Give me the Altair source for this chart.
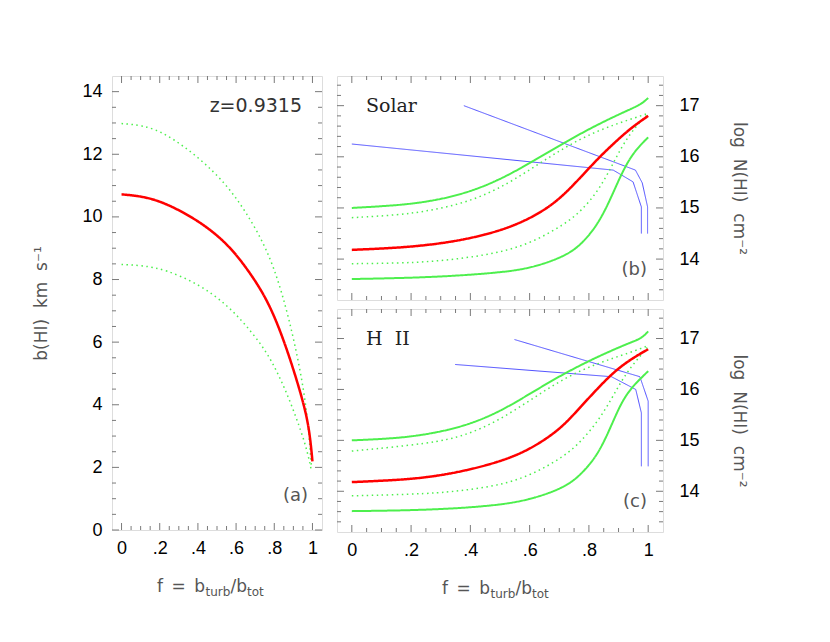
import altair as alt
import pandas as pd

# ---------------- data ----------------
# Panel (a): b(HI) versus f
A_RED_F = [0, 0.11, 0.23, 0.41, 0.55, 0.65, 0.76, 0.84, 0.91, 0.97, 0.99, 1.0]
A_RED_V = [10.72, 10.66, 10.45, 9.86, 9.17, 8.42, 7.41, 6.24, 4.96, 3.69, 2.85, 2.19]
A_DU_F = [0, 0.11, 0.23, 0.41, 0.55, 0.65, 0.76, 0.84, 0.91, 0.97, 0.995]
A_DU_V = [12.98, 12.93, 12.68, 11.88, 11.03, 10.18, 9.01, 7.63, 5.92, 4.0, 1.98]
A_DL_F = [0, 0.11, 0.23, 0.41, 0.55, 0.65, 0.76, 0.84, 0.91, 0.97, 0.995]
A_DL_V = [8.48, 8.45, 8.32, 7.84, 7.20, 6.56, 5.71, 4.75, 3.69, 2.62, 1.88]

# Panel (b): Solar
B_RED_F = [0, 0.156, 0.268, 0.381, 0.493, 0.583, 0.662, 0.718, 0.774, 0.831, 0.887, 0.943, 1.0]
B_RED_V = [14.18, 14.22, 14.28, 14.38, 14.54, 14.74, 15.0, 15.27, 15.61, 15.97, 16.28, 16.57, 16.80]
B_GU_F = [0, 0.156, 0.268, 0.381, 0.493, 0.605, 0.718, 0.831, 0.943, 0.977, 1.0]
B_GU_V = [15.0, 15.05, 15.13, 15.28, 15.53, 15.89, 16.28, 16.64, 16.94, 17.03, 17.15]
B_DU_F = [0, 0.156, 0.268, 0.381, 0.493, 0.605, 0.718, 0.831, 0.943, 1.0]
B_DU_V = [14.81, 14.86, 14.95, 15.10, 15.36, 15.76, 16.19, 16.52, 16.74, 16.85]
B_DL_F = [0, 0.156, 0.268, 0.381, 0.493, 0.605, 0.718, 0.774, 0.831, 0.875, 0.909, 0.943, 0.977, 1.0]
B_DL_V = [13.91, 13.92, 13.95, 14.02, 14.12, 14.31, 14.68, 14.94, 15.33, 15.79, 16.18, 16.48, 16.71, 16.84]
B_GL_F = [0, 0.268, 0.493, 0.605, 0.718, 0.774, 0.831, 0.875, 0.909, 0.943, 0.977, 1.0]
B_GL_V = [13.61, 13.64, 13.73, 13.82, 14.05, 14.28, 14.68, 15.2, 15.66, 16.02, 16.25, 16.38]
B_B1_F = [0, 0.882, 0.949, 0.977, 0.977]
B_B1_V = [16.25, 15.74, 15.51, 15.02, 14.50]
B_B2_F = [0.378, 0.957, 0.980, 0.998, 0.998]
B_B2_V = [17.0, 15.74, 15.49, 15.02, 14.50]

# Panel (c): H II
C_RED_F = [0, 0.156, 0.268, 0.381, 0.493, 0.583, 0.662, 0.718, 0.774, 0.831, 0.887, 0.943, 1.0]
C_RED_V = [14.18, 14.22, 14.28, 14.40, 14.57, 14.77, 15.05, 15.31, 15.67, 16.03, 16.36, 16.6, 16.79]
C_GU_F = [0, 0.156, 0.268, 0.381, 0.493, 0.605, 0.718, 0.831, 0.943, 0.977, 1.0]
C_GU_V = [15.0, 15.04, 15.13, 15.28, 15.54, 15.93, 16.32, 16.65, 16.93, 17.0, 17.14]
C_DU_F = [0, 0.268, 0.381, 0.493, 0.605, 0.718, 0.831, 0.943, 1.0]
C_DU_V = [14.79, 14.94, 15.09, 15.38, 15.80, 16.23, 16.52, 16.73, 16.86]
C_DL_F = [0, 0.268, 0.381, 0.493, 0.605, 0.718, 0.774, 0.831, 0.875, 0.909, 0.943, 0.977, 1.0]
C_DL_V = [13.91, 13.95, 14.02, 14.11, 14.31, 14.69, 14.98, 15.38, 15.80, 16.16, 16.45, 16.68, 16.85]
C_GL_F = [0, 0.268, 0.493, 0.605, 0.718, 0.774, 0.831, 0.875, 0.909, 0.943, 0.977, 1.0]
C_GL_V = [13.61, 13.63, 13.72, 13.84, 14.07, 14.33, 14.72, 15.28, 15.74, 16.03, 16.23, 16.36]
C_B1_F = [0.349, 0.876, 0.958, 0.977, 0.977]
C_B1_V = [16.49, 16.25, 16.0, 15.54, 14.49]
C_B2_F = [0.549, 0.972, 1.0, 1.0]
C_B2_V = [16.98, 16.25, 15.77, 14.49]

# axis ticks
X_MAJOR = [0, 0.2, 0.4, 0.6, 0.8, 1.0]
X_MINOR = [0.05, 0.1, 0.15, 0.25, 0.3, 0.35, 0.45, 0.5, 0.55, 0.65, 0.7, 0.75, 0.85, 0.9, 0.95]
A_Y_MAJOR = [0, 2, 4, 6, 8, 10, 12, 14]
A_Y_MINOR = [0.5, 1, 1.5, 2.5, 3, 3.5, 4.5, 5, 5.5, 6.5, 7, 7.5, 8.5, 9, 9.5,
             10.5, 11, 11.5, 12.5, 13, 13.5]
N_Y_MAJOR = [14, 15, 16, 17]
N_Y_MINOR = [13.4, 13.6, 13.8, 14.2, 14.4, 14.6, 14.8, 15.2, 15.4, 15.6, 15.8,
             16.2, 16.4, 16.6, 16.8, 17.2, 17.4]

XDOM = [-0.05, 1.05]
A_YDOM = [0, 14.5]
N_YDOM = [13.2, 17.58]

STYLES = ["red", "green", "greendot", "blue"]
COLORS = ["#ff0000", "#4def4d", "#4def4d", "#5050ff"]
DASHES = [[1, 0], [1, 0], [1.5, 3.5], [1, 0]]
WIDTHS = [2.5, 1.0, 1.3, 1.0]

FRAME = "#7a7a7a"
LABEL_FONT = "Liberation Sans"
TITLE_FONT = "DejaVu Sans"
TITLE_COLOR = "#555555"
NB = "\u00a0"


def make_df(series):
    rows = []
    for name, style, fs, vs in series:
        for i, (f, v) in enumerate(zip(fs, vs)):
            rows.append({"series": name, "style": style, "i": i, "f": f, "v": v})
    return pd.DataFrame(rows)


def style_enc():
    return dict(
        color=alt.Color("style:N", scale=alt.Scale(domain=STYLES, range=COLORS), legend=None),
        strokeDash=alt.StrokeDash("style:N", scale=alt.Scale(domain=STYLES, range=DASHES), legend=None),
        strokeWidth=alt.StrokeWidth("style:N", scale=alt.Scale(domain=STYLES, range=WIDTHS), legend=None),
        detail="series:N",
        order=alt.Order("i:Q"),
    )


def tick_layers(W, H, xscale, yscale, xaxis, yaxis, ymaj, ymin):
    layers = []
    for vals, ln in ((X_MAJOR, 7), (X_MINOR, 4)):
        base = alt.Chart(pd.DataFrame({"t": vals})).mark_rule(color=FRAME, strokeWidth=1)
        xe = alt.X("t:Q", scale=xscale, axis=xaxis)
        layers.append(base.encode(x=xe, y=alt.value(H), y2=alt.value(H - ln)))
        layers.append(base.encode(x=xe, y=alt.value(0), y2=alt.value(ln)))
    for vals, ln in ((ymaj, 7), (ymin, 4)):
        base = alt.Chart(pd.DataFrame({"t": vals})).mark_rule(color=FRAME, strokeWidth=1)
        ye = alt.Y("t:Q", scale=yscale, axis=yaxis)
        layers.append(base.encode(y=ye, x=alt.value(0), x2=alt.value(ln)))
        layers.append(base.encode(y=ye, x=alt.value(W), x2=alt.value(W - ln)))
    return layers


def x_axis():
    return alt.Axis(values=X_MAJOR, ticks=False, tickSize=0, domain=False, grid=False,
                    labelExpr="datum.value == 0 ? '0' : datum.value == 1 ? '1' : '.' + format(datum.value * 10, 'd')",
                    labelPadding=9, labelFontSize=18, labelFont=LABEL_FONT, labelColor="black",
                    labelFlush=False, labelOverlap=False, title=None)


def x_title(anchor, y):
    one = pd.DataFrame({"a": [0]})
    parts = [
        ("f\u2002=\u2002b", anchor, y, 17, "right"),
        ("turb", anchor + 0.5, y + 5, 12, "left"),
        ("/b", anchor + 25.5, y, 17, "left"),
        ("tot", anchor + 42, y + 5, 12, "left"),
    ]
    out = []
    for txt, x, yy, size, align in parts:
        out.append(alt.Chart(one).mark_text(text=txt, align=align, baseline="middle", fontSize=size,
                                            font=TITLE_FONT, color=TITLE_COLOR)
                   .encode(x=alt.value(x), y=alt.value(yy)))
    return out


def label(txt, x, y, size, font, color, align="left"):
    return alt.Chart(pd.DataFrame({"a": [0]})).mark_text(
        text=txt, align=align, baseline="middle", fontSize=size, font=font, color=color
    ).encode(x=alt.value(x), y=alt.value(y))


xs = alt.Scale(domain=XDOM, nice=False, zero=False)

# ---------------- panel (a) ----------------
WA, HA = 210, 454
ysa = alt.Scale(domain=A_YDOM, nice=False, zero=False)
AX_A = x_axis()
AY_A = alt.Axis(
    values=A_Y_MAJOR, ticks=False, tickSize=0, domain=False, grid=False,
    labelPadding=10, labelFontSize=18, labelFont=LABEL_FONT, labelColor="black",
    labelFlush=False, labelOverlap=False,
    title=f"b(HI){NB}{NB}km{NB}{NB}s⁻¹", titleFont=TITLE_FONT, titleFontSize=17,
    titleFontWeight="normal", titleColor=TITLE_COLOR, titlePadding=31)
df_a = make_df([
    ("du", "greendot", A_DU_F, A_DU_V),
    ("dl", "greendot", A_DL_F, A_DL_V),
    ("red", "red", A_RED_F, A_RED_V),
])
a_lines = alt.Chart(df_a).mark_line(interpolate="basis").encode(
    x=alt.X("f:Q", scale=xs, axis=AX_A),
    y=alt.Y("v:Q", scale=ysa, axis=AY_A),
    **style_enc(),
)
panel_a = alt.layer(
    a_lines,
    *tick_layers(WA, HA, xs, ysa, AX_A, AY_A, A_Y_MAJOR, A_Y_MINOR),
    label("z=0.9315", 190, 30, 19, TITLE_FONT, "#333333", "right"),
    label("(a)", 196, 420, 18, TITLE_FONT, TITLE_COLOR, "right"),
    *x_title(93, HA + 57),
).properties(width=WA, height=HA)


# ---------------- panels (b), (c) ----------------
WB = 326


def n_panel(H, series, blue, tag, name, show_x):
    ys = alt.Scale(domain=N_YDOM, nice=False, zero=False)
    xaxis = x_axis() if show_x else None
    yaxis = alt.Axis(values=N_Y_MAJOR, orient="right", ticks=False, tickSize=0, domain=False,
                     grid=False, labelPadding=16, labelFontSize=18, labelFont=LABEL_FONT,
                     labelColor="black", labelFlush=False, labelOverlap=False,
                     title=f"log{NB}{NB}N(HI){NB}{NB}cm⁻²", titleFont=TITLE_FONT, titleFontSize=17,
                     titleFontWeight="normal", titleColor=TITLE_COLOR, titlePadding=30)
    df = make_df(series)
    dfb = make_df(blue)
    curves = alt.Chart(df).mark_line(interpolate="basis").encode(
        x=alt.X("f:Q", scale=xs, axis=xaxis),
        y=alt.Y("v:Q", scale=ys, axis=yaxis),
        **style_enc(),
    )
    blues = alt.Chart(dfb).mark_line().encode(
        x=alt.X("f:Q", scale=xs, axis=xaxis),
        y=alt.Y("v:Q", scale=ys, axis=yaxis),
        **style_enc(),
    )
    layers = [blues, curves] + tick_layers(WB, H, xs, ys, xaxis, yaxis, N_Y_MAJOR, N_Y_MINOR) + [
        label(name, 29, 30, 19, "DejaVu Serif", "#222222", "left"),
        label(tag, 310, H - 30, 18, TITLE_FONT, TITLE_COLOR, "right"),
    ]
    if show_x:
        layers += x_title(153, H + 57)
    return alt.layer(*layers).properties(width=WB, height=H)


panel_b = n_panel(224, [
    ("gl", "green", B_GL_F, B_GL_V),
    ("gu", "green", B_GU_F, B_GU_V),
    ("du", "greendot", B_DU_F, B_DU_V),
    ("dl", "greendot", B_DL_F, B_DL_V),
    ("red", "red", B_RED_F, B_RED_V),
], [
    ("b1", "blue", B_B1_F, B_B1_V),
    ("b2", "blue", B_B2_F, B_B2_V),
], "(b)", "Solar", False)

panel_c = n_panel(223, [
    ("gl", "green", C_GL_F, C_GL_V),
    ("gu", "green", C_GU_F, C_GU_V),
    ("du", "greendot", C_DU_F, C_DU_V),
    ("dl", "greendot", C_DL_F, C_DL_V),
    ("red", "red", C_RED_F, C_RED_V),
], [
    ("b1", "blue", C_B1_F, C_B1_V),
    ("b2", "blue", C_B2_F, C_B2_V),
], "(c)", f"H{NB}{NB}II", True)

right = alt.vconcat(panel_b, panel_c, spacing=7)

chart = alt.hconcat(panel_a, right, spacing=13).properties(
    padding={"left": 24, "top": 67, "right": 5, "bottom": 5}
).configure_view(stroke=FRAME, strokeWidth=1).configure(background="white")

chart.save("out.html", embed_options={"renderer": "svg", "actions": False})
